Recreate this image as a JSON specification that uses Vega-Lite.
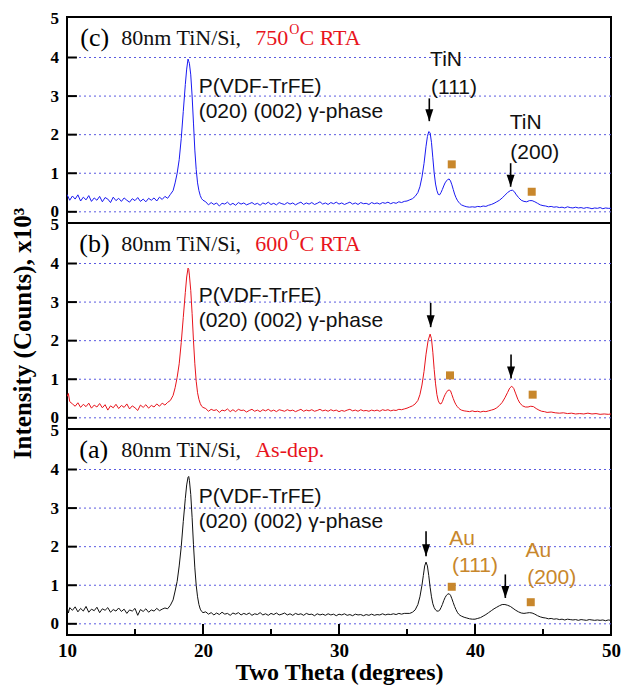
{
"$schema": "https://vega.github.io/schema/vega-lite/v6.json",
"autosize": {"type": "pad"},
"padding": {"left": 8, "top": 8, "right": 0, "bottom": 0},
"background": "white",
"bounds": "flush",
"spacing": 0,
"config": {"view": {"stroke": "black", "strokeWidth": 2}},
"datasets": {
"c": [
{"x":10.0,"y":0.45},{"x":10.2,"y":0.30},{"x":10.4,"y":0.41},{"x":10.6,"y":0.33},{"x":10.8,"y":0.44},{"x":11.0,"y":0.28},{"x":11.2,"y":0.38},{"x":11.4,"y":0.31},{"x":11.6,"y":0.42},{"x":11.8,"y":0.27},{"x":12.0,"y":0.36},{"x":12.2,"y":0.30},{"x":12.4,"y":0.40},{"x":12.6,"y":0.26},{"x":12.8,"y":0.37},{"x":13.0,"y":0.33},{"x":13.2,"y":0.24},{"x":13.4,"y":0.38},{"x":13.6,"y":0.29},{"x":13.8,"y":0.35},{"x":14.0,"y":0.27},{"x":14.2,"y":0.36},{"x":14.4,"y":0.30},{"x":14.6,"y":0.25},{"x":14.8,"y":0.34},{"x":15.0,"y":0.29},{"x":15.2,"y":0.37},{"x":15.4,"y":0.27},{"x":15.6,"y":0.33},{"x":15.8,"y":0.26},{"x":16.0,"y":0.35},{"x":16.2,"y":0.30},{"x":16.4,"y":0.36},{"x":16.6,"y":0.28},{"x":16.8,"y":0.38},{"x":17.0,"y":0.32},{"x":17.2,"y":0.40},{"x":17.4,"y":0.35},{"x":17.6,"y":0.45},
{"x":17.8,"y":0.55},{"x":17.95,"y":0.75},{"x":18.1,"y":1.0},{"x":18.25,"y":1.35},{"x":18.4,"y":1.9},{"x":18.55,"y":2.6},{"x":18.7,"y":3.3},{"x":18.8,"y":3.7},{"x":18.9,"y":3.96},{"x":18.95,"y":3.9},{"x":19.0,"y":3.85},{"x":19.1,"y":3.55},{"x":19.2,"y":3.0},{"x":19.3,"y":2.3},{"x":19.4,"y":1.6},{"x":19.5,"y":1.1},{"x":19.6,"y":0.75},{"x":19.7,"y":0.55},{"x":19.8,"y":0.42},{"x":19.9,"y":0.34},{"x":20.0,"y":0.30},
{"x":20.2,"y":0.26},{"x":20.4,"y":0.18},{"x":20.6,"y":0.24},{"x":20.8,"y":0.19},{"x":21.0,"y":0.23},{"x":21.2,"y":0.15},{"x":21.4,"y":0.22},{"x":21.6,"y":0.20},{"x":21.8,"y":0.25},{"x":22.0,"y":0.18},{"x":22.2,"y":0.22},{"x":22.4,"y":0.17},{"x":22.6,"y":0.24},{"x":22.8,"y":0.20},{"x":23.0,"y":0.23},{"x":23.2,"y":0.18},{"x":23.4,"y":0.21},{"x":23.6,"y":0.24},{"x":23.8,"y":0.19},{"x":24.0,"y":0.22},{"x":24.2,"y":0.17},{"x":24.4,"y":0.23},{"x":24.6,"y":0.20},{"x":24.8,"y":0.25},{"x":25.0,"y":0.19},{"x":25.2,"y":0.22},{"x":25.4,"y":0.18},{"x":25.6,"y":0.24},{"x":25.8,"y":0.21},{"x":26.0,"y":0.19},{"x":26.2,"y":0.24},{"x":26.4,"y":0.20},{"x":26.6,"y":0.23},{"x":26.8,"y":0.18},{"x":27.0,"y":0.22},{"x":27.2,"y":0.25},{"x":27.4,"y":0.19},{"x":27.6,"y":0.23},{"x":27.8,"y":0.20},{"x":28.0,"y":0.24},{"x":28.2,"y":0.19},{"x":28.4,"y":0.22},{"x":28.6,"y":0.26},{"x":28.8,"y":0.20},{"x":29.0,"y":0.23},{"x":29.2,"y":0.19},{"x":29.4,"y":0.24},{"x":29.6,"y":0.21},{"x":29.8,"y":0.25},{"x":30.0,"y":0.20},{"x":30.2,"y":0.23},{"x":30.4,"y":0.19},{"x":30.6,"y":0.22},{"x":30.8,"y":0.25},{"x":31.0,"y":0.20},{"x":31.2,"y":0.23},{"x":31.4,"y":0.19},{"x":31.6,"y":0.24},{"x":31.8,"y":0.21},{"x":32.0,"y":0.22},{"x":32.2,"y":0.19},{"x":32.4,"y":0.24},{"x":32.6,"y":0.21},{"x":32.8,"y":0.23},{"x":33.0,"y":0.20},{"x":33.2,"y":0.24},{"x":33.4,"y":0.22},{"x":33.6,"y":0.25},{"x":33.8,"y":0.21},{"x":34.0,"y":0.24},{"x":34.2,"y":0.22},{"x":34.4,"y":0.26},{"x":34.6,"y":0.24},{"x":34.8,"y":0.27},{"x":35.0,"y":0.28},{"x":35.2,"y":0.31},{"x":35.4,"y":0.34},
{"x":35.6,"y":0.40},{"x":35.8,"y":0.50},{"x":35.95,"y":0.65},{"x":36.1,"y":0.9},{"x":36.25,"y":1.25},{"x":36.4,"y":1.7},{"x":36.5,"y":1.95},{"x":36.6,"y":2.08},{"x":36.7,"y":2.05},{"x":36.8,"y":1.8},{"x":36.9,"y":1.4},{"x":37.0,"y":1.0},{"x":37.1,"y":0.72},{"x":37.2,"y":0.55},{"x":37.3,"y":0.45},{"x":37.4,"y":0.44},{"x":37.5,"y":0.50},{"x":37.6,"y":0.58},{"x":37.7,"y":0.67},{"x":37.8,"y":0.75},{"x":37.9,"y":0.80},{"x":38.0,"y":0.84},{"x":38.1,"y":0.85},{"x":38.2,"y":0.80},{"x":38.3,"y":0.70},{"x":38.4,"y":0.58},{"x":38.5,"y":0.46},{"x":38.6,"y":0.37},{"x":38.7,"y":0.30},{"x":38.8,"y":0.25},{"x":38.9,"y":0.21},{"x":39.0,"y":0.18},{"x":39.2,"y":0.15},{"x":39.4,"y":0.13},{"x":39.6,"y":0.12},{"x":39.8,"y":0.13},{"x":40.0,"y":0.12},{"x":40.2,"y":0.14},{"x":40.4,"y":0.13},{"x":40.6,"y":0.15},{"x":40.8,"y":0.14},{"x":41.0,"y":0.17},{"x":41.2,"y":0.19},{"x":41.4,"y":0.22},{"x":41.6,"y":0.26},{"x":41.8,"y":0.30},{"x":42.0,"y":0.36},{"x":42.2,"y":0.43},{"x":42.4,"y":0.50},{"x":42.6,"y":0.55},{"x":42.75,"y":0.56},{"x":42.9,"y":0.52},{"x":43.0,"y":0.46},{"x":43.2,"y":0.37},{"x":43.4,"y":0.30},{"x":43.6,"y":0.27},{"x":43.8,"y":0.26},{"x":44.0,"y":0.29},{"x":44.2,"y":0.29},{"x":44.4,"y":0.26},{"x":44.6,"y":0.22},{"x":44.8,"y":0.18},{"x":45.0,"y":0.16},{"x":45.2,"y":0.15},{"x":45.4,"y":0.13},{"x":45.6,"y":0.14},{"x":45.8,"y":0.12},
{"x":46.0,"y":0.13},{"x":46.2,"y":0.11},{"x":46.4,"y":0.12},{"x":46.6,"y":0.10},{"x":46.8,"y":0.13},{"x":47.0,"y":0.11},{"x":47.2,"y":0.10},{"x":47.4,"y":0.12},{"x":47.6,"y":0.10},{"x":47.8,"y":0.11},{"x":48.0,"y":0.09},{"x":48.2,"y":0.11},{"x":48.4,"y":0.10},{"x":48.6,"y":0.08},{"x":48.8,"y":0.10},{"x":49.0,"y":0.09},{"x":49.2,"y":0.11},{"x":49.4,"y":0.08},{"x":49.6,"y":0.10},{"x":49.8,"y":0.09},{"x":50.0,"y":0.09}
],
"b": [
{"x":10.0,"y":0.55},{"x":10.1,"y":0.63},{"x":10.2,"y":0.42},{"x":10.4,"y":0.36},{"x":10.6,"y":0.30},{"x":10.8,"y":0.39},{"x":11.0,"y":0.27},{"x":11.2,"y":0.35},{"x":11.4,"y":0.29},{"x":11.6,"y":0.38},{"x":11.8,"y":0.25},{"x":12.0,"y":0.33},{"x":12.2,"y":0.28},{"x":12.4,"y":0.37},{"x":12.6,"y":0.26},{"x":12.8,"y":0.34},{"x":13.0,"y":0.20},{"x":13.2,"y":0.31},{"x":13.4,"y":0.26},{"x":13.6,"y":0.35},{"x":13.8,"y":0.24},{"x":14.0,"y":0.32},{"x":14.2,"y":0.27},{"x":14.4,"y":0.36},{"x":14.6,"y":0.23},{"x":14.8,"y":0.31},{"x":15.0,"y":0.26},{"x":15.2,"y":0.19},{"x":15.4,"y":0.33},{"x":15.6,"y":0.27},{"x":15.8,"y":0.34},{"x":16.0,"y":0.25},{"x":16.2,"y":0.32},{"x":16.4,"y":0.28},{"x":16.6,"y":0.36},{"x":16.8,"y":0.30},{"x":17.0,"y":0.38},{"x":17.2,"y":0.33},{"x":17.4,"y":0.40},{"x":17.6,"y":0.45},
{"x":17.8,"y":0.58},{"x":17.95,"y":0.78},{"x":18.1,"y":1.05},{"x":18.25,"y":1.4},{"x":18.4,"y":1.95},{"x":18.55,"y":2.6},{"x":18.7,"y":3.25},{"x":18.8,"y":3.65},{"x":18.9,"y":3.88},{"x":18.95,"y":3.85},{"x":19.0,"y":3.7},{"x":19.1,"y":3.3},{"x":19.2,"y":2.7},{"x":19.3,"y":2.0},{"x":19.4,"y":1.4},{"x":19.5,"y":0.95},{"x":19.6,"y":0.65},{"x":19.7,"y":0.48},{"x":19.8,"y":0.37},{"x":19.9,"y":0.30},{"x":20.0,"y":0.27},
{"x":20.2,"y":0.24},{"x":20.4,"y":0.17},{"x":20.6,"y":0.22},{"x":20.8,"y":0.19},{"x":21.0,"y":0.21},{"x":21.2,"y":0.14},{"x":21.4,"y":0.20},{"x":21.6,"y":0.18},{"x":21.8,"y":0.23},{"x":22.0,"y":0.16},{"x":22.2,"y":0.21},{"x":22.4,"y":0.16},{"x":22.6,"y":0.22},{"x":22.8,"y":0.19},{"x":23.0,"y":0.20},{"x":23.2,"y":0.15},{"x":23.4,"y":0.19},{"x":23.6,"y":0.22},{"x":23.8,"y":0.17},{"x":24.0,"y":0.20},{"x":24.2,"y":0.16},{"x":24.4,"y":0.21},{"x":24.6,"y":0.18},{"x":24.8,"y":0.22},{"x":25.0,"y":0.17},{"x":25.2,"y":0.20},{"x":25.4,"y":0.16},{"x":25.6,"y":0.21},{"x":25.8,"y":0.19},{"x":26.0,"y":0.17},{"x":26.2,"y":0.21},{"x":26.4,"y":0.18},{"x":26.6,"y":0.20},{"x":26.8,"y":0.16},{"x":27.0,"y":0.19},{"x":27.2,"y":0.22},{"x":27.4,"y":0.17},{"x":27.6,"y":0.20},{"x":27.8,"y":0.18},{"x":28.0,"y":0.21},{"x":28.2,"y":0.17},{"x":28.4,"y":0.19},{"x":28.6,"y":0.22},{"x":28.8,"y":0.18},{"x":29.0,"y":0.20},{"x":29.2,"y":0.17},{"x":29.4,"y":0.21},{"x":29.6,"y":0.18},{"x":29.8,"y":0.20},{"x":30.0,"y":0.16},{"x":30.2,"y":0.19},{"x":30.4,"y":0.17},{"x":30.6,"y":0.20},{"x":30.8,"y":0.22},{"x":31.0,"y":0.18},{"x":31.2,"y":0.20},{"x":31.4,"y":0.17},{"x":31.6,"y":0.21},{"x":31.8,"y":0.18},{"x":32.0,"y":0.19},{"x":32.2,"y":0.17},{"x":32.4,"y":0.20},{"x":32.6,"y":0.18},{"x":32.8,"y":0.20},{"x":33.0,"y":0.17},{"x":33.2,"y":0.21},{"x":33.4,"y":0.19},{"x":33.6,"y":0.21},{"x":33.8,"y":0.18},{"x":34.0,"y":0.20},{"x":34.2,"y":0.19},{"x":34.4,"y":0.22},{"x":34.6,"y":0.21},{"x":34.8,"y":0.23},{"x":35.0,"y":0.25},{"x":35.2,"y":0.28},{"x":35.4,"y":0.31},
{"x":35.6,"y":0.36},{"x":35.8,"y":0.45},{"x":35.95,"y":0.6},{"x":36.1,"y":0.85},{"x":36.25,"y":1.2},{"x":36.4,"y":1.65},{"x":36.55,"y":2.0},{"x":36.7,"y":2.17},{"x":36.8,"y":2.05},{"x":36.9,"y":1.7},{"x":37.0,"y":1.25},{"x":37.1,"y":0.88},{"x":37.2,"y":0.6},{"x":37.3,"y":0.44},{"x":37.4,"y":0.37},{"x":37.5,"y":0.36},{"x":37.6,"y":0.42},{"x":37.7,"y":0.52},{"x":37.8,"y":0.6},{"x":37.9,"y":0.66},{"x":38.0,"y":0.71},{"x":38.1,"y":0.72},{"x":38.2,"y":0.7},{"x":38.3,"y":0.6},{"x":38.4,"y":0.5},{"x":38.5,"y":0.41},{"x":38.6,"y":0.34},{"x":38.7,"y":0.29},{"x":38.8,"y":0.25},{"x":38.9,"y":0.22},{"x":39.0,"y":0.2},{"x":39.2,"y":0.18},{"x":39.4,"y":0.17},{"x":39.6,"y":0.16},{"x":39.8,"y":0.18},{"x":40.0,"y":0.16},{"x":40.2,"y":0.17},{"x":40.4,"y":0.15},{"x":40.6,"y":0.17},{"x":40.8,"y":0.16},{"x":41.0,"y":0.18},{"x":41.2,"y":0.2},{"x":41.4,"y":0.22},{"x":41.6,"y":0.26},{"x":41.8,"y":0.32},{"x":42.0,"y":0.4},{"x":42.2,"y":0.52},{"x":42.4,"y":0.66},{"x":42.55,"y":0.77},{"x":42.7,"y":0.82},{"x":42.85,"y":0.76},{"x":43.0,"y":0.62},{"x":43.15,"y":0.48},{"x":43.3,"y":0.38},{"x":43.5,"y":0.31},{"x":43.7,"y":0.28},{"x":43.9,"y":0.28},{"x":44.1,"y":0.3},{"x":44.3,"y":0.29},{"x":44.5,"y":0.24},{"x":44.7,"y":0.2},{"x":44.9,"y":0.17},{"x":45.1,"y":0.16},{"x":45.3,"y":0.14},{"x":45.6,"y":0.15},{"x":45.9,"y":0.13},{"x":46.2,"y":0.12},{"x":46.5,"y":0.13},{"x":46.8,"y":0.11},{"x":47.1,"y":0.12},{"x":47.4,"y":0.10},{"x":47.7,"y":0.11},{"x":48.0,"y":0.10},{"x":48.3,"y":0.12},{"x":48.6,"y":0.10},{"x":48.9,"y":0.11},{"x":49.2,"y":0.09},{"x":49.5,"y":0.10},{"x":49.8,"y":0.09},{"x":50.0,"y":0.10}
],
"a": [
{"x":10.0,"y":0.45},{"x":10.1,"y":0.28},{"x":10.2,"y":0.42},{"x":10.4,"y":0.35},{"x":10.6,"y":0.44},{"x":10.8,"y":0.31},{"x":11.0,"y":0.40},{"x":11.2,"y":0.33},{"x":11.4,"y":0.45},{"x":11.6,"y":0.30},{"x":11.8,"y":0.38},{"x":12.0,"y":0.34},{"x":12.2,"y":0.43},{"x":12.4,"y":0.29},{"x":12.6,"y":0.39},{"x":12.8,"y":0.35},{"x":13.0,"y":0.42},{"x":13.2,"y":0.30},{"x":13.4,"y":0.37},{"x":13.6,"y":0.33},{"x":13.8,"y":0.41},{"x":14.0,"y":0.32},{"x":14.2,"y":0.38},{"x":14.4,"y":0.27},{"x":14.6,"y":0.36},{"x":14.8,"y":0.33},{"x":15.0,"y":0.40},{"x":15.2,"y":0.22},{"x":15.4,"y":0.37},{"x":15.6,"y":0.32},{"x":15.8,"y":0.39},{"x":16.0,"y":0.30},{"x":16.2,"y":0.36},{"x":16.4,"y":0.33},{"x":16.6,"y":0.40},{"x":16.8,"y":0.34},{"x":17.0,"y":0.38},{"x":17.2,"y":0.41},{"x":17.4,"y":0.39},{"x":17.6,"y":0.48},
{"x":17.8,"y":0.62},{"x":17.95,"y":0.85},{"x":18.1,"y":1.1},{"x":18.25,"y":1.5},{"x":18.4,"y":2.0},{"x":18.55,"y":2.65},{"x":18.7,"y":3.25},{"x":18.8,"y":3.6},{"x":18.9,"y":3.8},{"x":18.95,"y":3.82},{"x":19.0,"y":3.72},{"x":19.1,"y":3.35},{"x":19.2,"y":2.75},{"x":19.3,"y":2.05},{"x":19.4,"y":1.45},{"x":19.5,"y":1.0},{"x":19.6,"y":0.7},{"x":19.7,"y":0.5},{"x":19.8,"y":0.38},{"x":19.9,"y":0.32},{"x":20.0,"y":0.29},
{"x":20.2,"y":0.31},{"x":20.4,"y":0.25},{"x":20.6,"y":0.29},{"x":20.8,"y":0.23},{"x":21.0,"y":0.28},{"x":21.2,"y":0.24},{"x":21.4,"y":0.30},{"x":21.6,"y":0.25},{"x":21.8,"y":0.27},{"x":22.0,"y":0.22},{"x":22.2,"y":0.28},{"x":22.4,"y":0.25},{"x":22.6,"y":0.29},{"x":22.8,"y":0.23},{"x":23.0,"y":0.27},{"x":23.2,"y":0.24},{"x":23.4,"y":0.28},{"x":23.6,"y":0.22},{"x":23.8,"y":0.26},{"x":24.0,"y":0.24},{"x":24.2,"y":0.29},{"x":24.4,"y":0.23},{"x":24.6,"y":0.26},{"x":24.8,"y":0.22},{"x":25.0,"y":0.27},{"x":25.2,"y":0.24},{"x":25.4,"y":0.28},{"x":25.6,"y":0.23},{"x":25.8,"y":0.25},{"x":26.0,"y":0.28},{"x":26.2,"y":0.23},{"x":26.4,"y":0.26},{"x":26.6,"y":0.22},{"x":26.8,"y":0.27},{"x":27.0,"y":0.24},{"x":27.2,"y":0.26},{"x":27.4,"y":0.22},{"x":27.6,"y":0.27},{"x":27.8,"y":0.24},{"x":28.0,"y":0.25},{"x":28.2,"y":0.21},{"x":28.4,"y":0.26},{"x":28.6,"y":0.23},{"x":28.8,"y":0.25},{"x":29.0,"y":0.22},{"x":29.2,"y":0.26},{"x":29.4,"y":0.23},{"x":29.6,"y":0.25},{"x":29.8,"y":0.21},{"x":30.0,"y":0.25},{"x":30.2,"y":0.23},{"x":30.4,"y":0.26},{"x":30.6,"y":0.22},{"x":30.8,"y":0.24},{"x":31.0,"y":0.21},{"x":31.2,"y":0.25},{"x":31.4,"y":0.23},{"x":31.6,"y":0.24},{"x":31.8,"y":0.21},{"x":32.0,"y":0.24},{"x":32.2,"y":0.22},{"x":32.4,"y":0.25},{"x":32.6,"y":0.22},{"x":32.8,"y":0.24},{"x":33.0,"y":0.23},{"x":33.2,"y":0.26},{"x":33.4,"y":0.23},{"x":33.6,"y":0.25},{"x":33.8,"y":0.24},{"x":34.0,"y":0.26},{"x":34.2,"y":0.24},{"x":34.4,"y":0.27},{"x":34.6,"y":0.25},{"x":34.8,"y":0.27},{"x":35.0,"y":0.27},
{"x":35.2,"y":0.27},{"x":35.4,"y":0.30},{"x":35.6,"y":0.36},{"x":35.8,"y":0.5},{"x":35.95,"y":0.7},{"x":36.1,"y":1.0},{"x":36.2,"y":1.25},{"x":36.3,"y":1.5},{"x":36.4,"y":1.6},{"x":36.5,"y":1.5},{"x":36.6,"y":1.25},{"x":36.7,"y":0.95},{"x":36.8,"y":0.7},{"x":36.9,"y":0.52},{"x":37.0,"y":0.42},{"x":37.1,"y":0.36},{"x":37.2,"y":0.33},{"x":37.3,"y":0.33},{"x":37.4,"y":0.35},{"x":37.5,"y":0.42},{"x":37.6,"y":0.5},{"x":37.7,"y":0.6},{"x":37.8,"y":0.68},{"x":37.9,"y":0.74},{"x":38.0,"y":0.77},{"x":38.1,"y":0.78},{"x":38.2,"y":0.74},{"x":38.3,"y":0.65},{"x":38.4,"y":0.55},{"x":38.5,"y":0.45},{"x":38.6,"y":0.37},{"x":38.7,"y":0.3},{"x":38.8,"y":0.25},{"x":38.9,"y":0.22},{"x":39.0,"y":0.2},{"x":39.2,"y":0.17},{"x":39.4,"y":0.15},{"x":39.6,"y":0.13},{"x":39.8,"y":0.12},{"x":40.0,"y":0.12},{"x":40.2,"y":0.14},{"x":40.4,"y":0.16},{"x":40.6,"y":0.2},{"x":40.8,"y":0.24},{"x":41.0,"y":0.29},{"x":41.2,"y":0.34},{"x":41.4,"y":0.39},{"x":41.6,"y":0.43},{"x":41.8,"y":0.47},{"x":42.0,"y":0.5},{"x":42.2,"y":0.5},{"x":42.4,"y":0.48},{"x":42.6,"y":0.45},{"x":42.8,"y":0.4},{"x":43.0,"y":0.35},{"x":43.2,"y":0.31},{"x":43.4,"y":0.28},{"x":43.6,"y":0.27},{"x":43.8,"y":0.28},{"x":44.0,"y":0.29},{"x":44.2,"y":0.28},{"x":44.4,"y":0.25},{"x":44.6,"y":0.21},{"x":44.8,"y":0.18},
{"x":45.0,"y":0.16},{"x":45.2,"y":0.15},{"x":45.4,"y":0.13},{"x":45.6,"y":0.14},{"x":45.8,"y":0.12},{"x":46.0,"y":0.13},{"x":46.2,"y":0.11},{"x":46.4,"y":0.12},{"x":46.6,"y":0.10},{"x":46.8,"y":0.12},{"x":47.0,"y":0.11},{"x":47.2,"y":0.10},{"x":47.4,"y":0.11},{"x":47.6,"y":0.09},{"x":47.8,"y":0.11},{"x":48.0,"y":0.10},{"x":48.2,"y":0.09},{"x":48.4,"y":0.11},{"x":48.6,"y":0.10},{"x":48.8,"y":0.09},{"x":49.0,"y":0.10},{"x":49.2,"y":0.09},{"x":49.4,"y":0.10},{"x":49.6,"y":0.08},{"x":49.8,"y":0.10},{"x":50.0,"y":0.09}
],
"grid": [{"v":0},{"v":1},{"v":2},{"v":3},{"v":4}],
"yticks": [{"v":0,"x1":10,"x2":10.73},{"v":1,"x1":10,"x2":10.73},{"v":2,"x1":10,"x2":10.73},{"v":3,"x1":10,"x2":10.73},{"v":4,"x1":10,"x2":10.73}],
"xticks": [{"x":20,"ya":-0.29,"yb":-0.005},{"x":30,"ya":-0.29,"yb":-0.005},{"x":40,"ya":-0.29,"yb":-0.005},{"x":15,"ya":-0.29,"yb":-0.135},{"x":25,"ya":-0.29,"yb":-0.135},{"x":35,"ya":-0.29,"yb":-0.135},{"x":45,"ya":-0.29,"yb":-0.135}],
"arrows": [
{"p":"c","x":36.64,"y1":2.94,"y2":2.35},{"p":"c","x":42.62,"y1":1.26,"y2":0.65},
{"p":"b","x":36.74,"y1":2.98,"y2":2.35},{"p":"b","x":42.65,"y1":1.64,"y2":1.02},
{"p":"a","x":36.4,"y1":2.4,"y2":1.75},{"p":"a","x":42.23,"y1":1.28,"y2":0.67}
],
"squares": [
{"p":"c","x":38.29,"y":1.23},{"p":"c","x":44.17,"y":0.52},
{"p":"b","x":38.16,"y":1.1},{"p":"b","x":44.24,"y":0.6},
{"p":"a","x":38.29,"y":0.96},{"p":"a","x":44.1,"y":0.56}
],
"texts": [
{"p":"c","k":"paren","x":10.98,"y":4.5,"t":"(c)"},
{"p":"c","k":"lab","x":13.99,"y":4.5,"t":"80nm TiN/Si,"},
{"p":"c","k":"red","x":23.84,"y":4.5,"t":"750"},
{"p":"c","k":"sup","x":26.35,"y":4.72,"t":"O"},
{"p":"c","k":"red","x":27.1,"y":4.5,"t":"C RTA"},
{"p":"c","k":"annL","x":19.68,"y":3.24,"t":"P(VDF-TrFE)"},
{"p":"c","k":"annL","x":19.68,"y":2.59,"t":"(020) (002) γ-phase"},
{"p":"c","k":"annC","x":37.87,"y":3.93,"t":"TiN"},
{"p":"c","k":"annC","x":38.46,"y":3.2,"t":"(111)"},
{"p":"c","k":"annC","x":43.73,"y":2.29,"t":"TiN"},
{"p":"c","k":"annC","x":44.4,"y":1.53,"t":"(200)"},
{"p":"b","k":"paren","x":10.9,"y":4.5,"t":"(b)"},
{"p":"b","k":"lab","x":13.99,"y":4.5,"t":"80nm TiN/Si,"},
{"p":"b","k":"red","x":23.84,"y":4.5,"t":"600"},
{"p":"b","k":"sup","x":26.35,"y":4.72,"t":"O"},
{"p":"b","k":"red","x":27.1,"y":4.5,"t":"C RTA"},
{"p":"b","k":"annL","x":19.68,"y":3.15,"t":"P(VDF-TrFE)"},
{"p":"b","k":"annL","x":19.68,"y":2.5,"t":"(020) (002) γ-phase"},
{"p":"a","k":"paren","x":10.9,"y":4.5,"t":"(a)"},
{"p":"a","k":"lab","x":13.99,"y":4.5,"t":"80nm TiN/Si,"},
{"p":"a","k":"red","x":23.84,"y":4.5,"t":"As-dep."},
{"p":"a","k":"annL","x":19.68,"y":3.3,"t":"P(VDF-TrFE)"},
{"p":"a","k":"annL","x":19.68,"y":2.65,"t":"(020) (002) γ-phase"},
{"p":"a","k":"au","x":39.05,"y":2.21,"t":"Au"},
{"p":"a","k":"au","x":40.0,"y":1.49,"t":"(111)"},
{"p":"a","k":"au","x":44.66,"y":1.88,"t":"Au"},
{"p":"a","k":"au","x":45.64,"y":1.19,"t":"(200)"}
]
},
"vconcat": [
{
"width": 544, "height": 206,
"layer": [
{"data": {"name": "grid"}, "mark": {"type": "rule", "color": "#5a5ae0", "strokeWidth": 1, "strokeDash": [2, 3]},
 "encoding": {"y": {"field": "v", "type": "quantitative", "scale": {"domain": [-0.29, 5.05], "nice": false, "zero": false},
  "axis": {"values": [0,1,2,3,4,5], "grid": false, "ticks": false, "domain": false, "labelPadding": 8.5,
   "labelFont": "Liberation Serif", "labelFontWeight": "bold", "labelFontSize": 17, "labelColor": "black", "title": null}}}},
{"data": {"name": "yticks"}, "mark": {"type": "rule", "color": "black", "strokeWidth": 2},
 "encoding": {"x": {"field": "x1", "type": "quantitative", "title": null}, "x2": {"field": "x2"}, "y": {"field": "v", "type": "quantitative", "title": null}}},
{"data": {"name": "c"}, "mark": {"type": "line", "color": "#1a1af2", "strokeWidth": 1, "clip": true},
 "encoding": {
  "x": {"field": "x", "type": "quantitative", "scale": {"domain": [10, 50], "nice": false, "zero": false}, "axis": null},
  "y": {"field": "y", "type": "quantitative", "title": null}}},
{"data": {"name": "arrows"}, "transform": [{"filter": "datum.p == 'c'"}], "mark": {"type": "rule", "color": "black", "strokeWidth": 1.6},
 "encoding": {"x": {"field": "x", "type": "quantitative", "title": null}, "y": {"field": "y1", "type": "quantitative", "title": null}, "y2": {"field": "y2"}}},
{"data": {"name": "arrows"}, "transform": [{"filter": "datum.p == 'c'"}], "mark": {"type": "point", "shape": "M0,0L-0.8,-2.4L0.8,-2.4Z", "filled": true, "color": "black", "size": 100, "opacity": 1},
 "encoding": {"x": {"field": "x", "type": "quantitative", "title": null}, "y": {"field": "y2", "type": "quantitative", "title": null}}},
{"data": {"name": "squares"}, "transform": [{"filter": "datum.p == 'c'"}], "mark": {"type": "square", "color": "#c8872c", "size": 64, "opacity": 1},
 "encoding": {"x": {"field": "x", "type": "quantitative", "title": null}, "y": {"field": "y", "type": "quantitative", "title": null}}},
{"data": {"name": "texts"}, "transform": [{"filter": "datum.p == 'c' && datum.k == 'paren'"}], "mark": {"type": "text", "font": "Liberation Serif", "fontSize": 26, "align": "left", "baseline": "middle", "color": "black"},
 "encoding": {"x": {"field": "x", "type": "quantitative", "title": null}, "y": {"field": "y", "type": "quantitative", "title": null}, "text": {"field": "t"}}},
{"data": {"name": "texts"}, "transform": [{"filter": "datum.p == 'c' && datum.k == 'lab'"}], "mark": {"type": "text", "font": "Liberation Serif", "fontSize": 22, "align": "left", "baseline": "middle", "color": "#111"},
 "encoding": {"x": {"field": "x", "type": "quantitative", "title": null}, "y": {"field": "y", "type": "quantitative", "title": null}, "text": {"field": "t"}}},
{"data": {"name": "texts"}, "transform": [{"filter": "datum.p == 'c' && datum.k == 'red'"}], "mark": {"type": "text", "font": "Liberation Serif", "fontSize": 22, "align": "left", "baseline": "middle", "color": "#e8141c"},
 "encoding": {"x": {"field": "x", "type": "quantitative", "title": null}, "y": {"field": "y", "type": "quantitative", "title": null}, "text": {"field": "t"}}},
{"data": {"name": "texts"}, "transform": [{"filter": "datum.p == 'c' && datum.k == 'sup'"}], "mark": {"type": "text", "font": "Liberation Serif", "fontSize": 14, "align": "left", "baseline": "middle", "color": "#e8141c"},
 "encoding": {"x": {"field": "x", "type": "quantitative", "title": null}, "y": {"field": "y", "type": "quantitative", "title": null}, "text": {"field": "t"}}},
{"data": {"name": "texts"}, "transform": [{"filter": "datum.p == 'c' && datum.k == 'annL'"}], "mark": {"type": "text", "font": "Liberation Sans", "fontSize": 21, "align": "left", "baseline": "middle", "color": "#111"},
 "encoding": {"x": {"field": "x", "type": "quantitative", "title": null}, "y": {"field": "y", "type": "quantitative", "title": null}, "text": {"field": "t"}}},
{"data": {"name": "texts"}, "transform": [{"filter": "datum.p == 'c' && datum.k == 'annC'"}], "mark": {"type": "text", "font": "Liberation Sans", "fontSize": 21, "align": "center", "baseline": "middle", "color": "#111"},
 "encoding": {"x": {"field": "x", "type": "quantitative", "title": null}, "y": {"field": "y", "type": "quantitative", "title": null}, "text": {"field": "t"}}}
]
},
{
"width": 544, "height": 206,
"layer": [
{"data": {"name": "grid"}, "mark": {"type": "rule", "color": "#5a5ae0", "strokeWidth": 1, "strokeDash": [2, 3]},
 "encoding": {"y": {"field": "v", "type": "quantitative", "title": "Intensity (Counts), x10³", "scale": {"domain": [-0.29, 5.05], "nice": false, "zero": false},
  "axis": {"values": [0,1,2,3,4,5], "grid": false, "ticks": false, "domain": false, "labelPadding": 8.5,
   "labelFont": "Liberation Serif", "labelFontWeight": "bold", "labelFontSize": 17, "labelColor": "black",
   "titleFont": "Liberation Serif", "titleFontWeight": "bold", "titleFontSize": 25, "titleColor": "black",
   "titleX": -45, "titleY": 110, "titleAngle": -90, "titleBaseline": "middle", "titleAlign": "center"}}}},
{"data": {"name": "yticks"}, "mark": {"type": "rule", "color": "black", "strokeWidth": 2},
 "encoding": {"x": {"field": "x1", "type": "quantitative", "title": null}, "x2": {"field": "x2"}, "y": {"field": "v", "type": "quantitative", "title": "Intensity (Counts), x10³"}}},
{"data": {"name": "b"}, "mark": {"type": "line", "color": "#e8141c", "strokeWidth": 1, "clip": true},
 "encoding": {
  "x": {"field": "x", "type": "quantitative", "scale": {"domain": [10, 50], "nice": false, "zero": false}, "axis": null},
  "y": {"field": "y", "type": "quantitative", "title": "Intensity (Counts), x10³"}}},
{"data": {"name": "arrows"}, "transform": [{"filter": "datum.p == 'b'"}], "mark": {"type": "rule", "color": "black", "strokeWidth": 1.6},
 "encoding": {"x": {"field": "x", "type": "quantitative", "title": null}, "y": {"field": "y1", "type": "quantitative", "title": "Intensity (Counts), x10³"}, "y2": {"field": "y2"}}},
{"data": {"name": "arrows"}, "transform": [{"filter": "datum.p == 'b'"}], "mark": {"type": "point", "shape": "M0,0L-0.8,-2.4L0.8,-2.4Z", "filled": true, "color": "black", "size": 100, "opacity": 1},
 "encoding": {"x": {"field": "x", "type": "quantitative", "title": null}, "y": {"field": "y2", "type": "quantitative", "title": "Intensity (Counts), x10³"}}},
{"data": {"name": "squares"}, "transform": [{"filter": "datum.p == 'b'"}], "mark": {"type": "square", "color": "#c8872c", "size": 64, "opacity": 1},
 "encoding": {"x": {"field": "x", "type": "quantitative", "title": null}, "y": {"field": "y", "type": "quantitative", "title": "Intensity (Counts), x10³"}}},
{"data": {"name": "texts"}, "transform": [{"filter": "datum.p == 'b' && datum.k == 'paren'"}], "mark": {"type": "text", "font": "Liberation Serif", "fontSize": 26, "align": "left", "baseline": "middle", "color": "black"},
 "encoding": {"x": {"field": "x", "type": "quantitative", "title": null}, "y": {"field": "y", "type": "quantitative", "title": "Intensity (Counts), x10³"}, "text": {"field": "t"}}},
{"data": {"name": "texts"}, "transform": [{"filter": "datum.p == 'b' && datum.k == 'lab'"}], "mark": {"type": "text", "font": "Liberation Serif", "fontSize": 22, "align": "left", "baseline": "middle", "color": "#111"},
 "encoding": {"x": {"field": "x", "type": "quantitative", "title": null}, "y": {"field": "y", "type": "quantitative", "title": "Intensity (Counts), x10³"}, "text": {"field": "t"}}},
{"data": {"name": "texts"}, "transform": [{"filter": "datum.p == 'b' && datum.k == 'red'"}], "mark": {"type": "text", "font": "Liberation Serif", "fontSize": 22, "align": "left", "baseline": "middle", "color": "#e8141c"},
 "encoding": {"x": {"field": "x", "type": "quantitative", "title": null}, "y": {"field": "y", "type": "quantitative", "title": "Intensity (Counts), x10³"}, "text": {"field": "t"}}},
{"data": {"name": "texts"}, "transform": [{"filter": "datum.p == 'b' && datum.k == 'sup'"}], "mark": {"type": "text", "font": "Liberation Serif", "fontSize": 14, "align": "left", "baseline": "middle", "color": "#e8141c"},
 "encoding": {"x": {"field": "x", "type": "quantitative", "title": null}, "y": {"field": "y", "type": "quantitative", "title": "Intensity (Counts), x10³"}, "text": {"field": "t"}}},
{"data": {"name": "texts"}, "transform": [{"filter": "datum.p == 'b' && datum.k == 'annL'"}], "mark": {"type": "text", "font": "Liberation Sans", "fontSize": 21, "align": "left", "baseline": "middle", "color": "#111"},
 "encoding": {"x": {"field": "x", "type": "quantitative", "title": null}, "y": {"field": "y", "type": "quantitative", "title": "Intensity (Counts), x10³"}, "text": {"field": "t"}}}
]
},
{
"width": 544, "height": 206,
"layer": [
{"data": {"name": "grid"}, "mark": {"type": "rule", "color": "#5a5ae0", "strokeWidth": 1, "strokeDash": [2, 3]},
 "encoding": {"y": {"field": "v", "type": "quantitative", "scale": {"domain": [-0.29, 5.05], "nice": false, "zero": false},
  "axis": {"values": [0,1,2,3,4,5], "grid": false, "ticks": false, "domain": false, "labelPadding": 8.5,
   "labelFont": "Liberation Serif", "labelFontWeight": "bold", "labelFontSize": 17, "labelColor": "black", "title": null}}}},
{"data": {"name": "yticks"}, "mark": {"type": "rule", "color": "black", "strokeWidth": 2},
 "encoding": {"x": {"field": "x1", "type": "quantitative", "title": "Two Theta (degrees)"}, "x2": {"field": "x2"}, "y": {"field": "v", "type": "quantitative", "title": null}}},
{"data": {"name": "xticks"}, "mark": {"type": "rule", "color": "black", "strokeWidth": 2},
 "encoding": {"x": {"field": "x", "type": "quantitative", "title": "Two Theta (degrees)"}, "y": {"field": "ya", "type": "quantitative", "title": null}, "y2": {"field": "yb"}}},
{"data": {"name": "a"}, "mark": {"type": "line", "color": "#111111", "strokeWidth": 1, "clip": true},
 "encoding": {
  "x": {"field": "x", "type": "quantitative", "title": "Two Theta (degrees)", "scale": {"domain": [10, 50], "nice": false, "zero": false},
   "axis": {"values": [10,20,30,40,50], "ticks": false, "domain": false, "grid": false, "labelPadding": 6, "labelFlush": false, "labelOverlap": false,
    "labelFont": "Liberation Serif", "labelFontWeight": "bold", "labelFontSize": 19, "labelColor": "black",
    "titleFont": "Liberation Serif", "titleFontWeight": "bold", "titleFontSize": 24, "titleColor": "black", "titlePadding": 0}},
  "y": {"field": "y", "type": "quantitative", "title": null}}},
{"data": {"name": "arrows"}, "transform": [{"filter": "datum.p == 'a'"}], "mark": {"type": "rule", "color": "black", "strokeWidth": 1.6},
 "encoding": {"x": {"field": "x", "type": "quantitative", "title": "Two Theta (degrees)"}, "y": {"field": "y1", "type": "quantitative", "title": null}, "y2": {"field": "y2"}}},
{"data": {"name": "arrows"}, "transform": [{"filter": "datum.p == 'a'"}], "mark": {"type": "point", "shape": "M0,0L-0.8,-2.4L0.8,-2.4Z", "filled": true, "color": "black", "size": 100, "opacity": 1},
 "encoding": {"x": {"field": "x", "type": "quantitative", "title": "Two Theta (degrees)"}, "y": {"field": "y2", "type": "quantitative", "title": null}}},
{"data": {"name": "squares"}, "transform": [{"filter": "datum.p == 'a'"}], "mark": {"type": "square", "color": "#c8872c", "size": 64, "opacity": 1},
 "encoding": {"x": {"field": "x", "type": "quantitative", "title": "Two Theta (degrees)"}, "y": {"field": "y", "type": "quantitative", "title": null}}},
{"data": {"name": "texts"}, "transform": [{"filter": "datum.p == 'a' && datum.k == 'paren'"}], "mark": {"type": "text", "font": "Liberation Serif", "fontSize": 26, "align": "left", "baseline": "middle", "color": "black"},
 "encoding": {"x": {"field": "x", "type": "quantitative", "title": "Two Theta (degrees)"}, "y": {"field": "y", "type": "quantitative", "title": null}, "text": {"field": "t"}}},
{"data": {"name": "texts"}, "transform": [{"filter": "datum.p == 'a' && datum.k == 'lab'"}], "mark": {"type": "text", "font": "Liberation Serif", "fontSize": 22, "align": "left", "baseline": "middle", "color": "#111"},
 "encoding": {"x": {"field": "x", "type": "quantitative", "title": "Two Theta (degrees)"}, "y": {"field": "y", "type": "quantitative", "title": null}, "text": {"field": "t"}}},
{"data": {"name": "texts"}, "transform": [{"filter": "datum.p == 'a' && datum.k == 'red'"}], "mark": {"type": "text", "font": "Liberation Serif", "fontSize": 22, "align": "left", "baseline": "middle", "color": "#e8141c"},
 "encoding": {"x": {"field": "x", "type": "quantitative", "title": "Two Theta (degrees)"}, "y": {"field": "y", "type": "quantitative", "title": null}, "text": {"field": "t"}}},
{"data": {"name": "texts"}, "transform": [{"filter": "datum.p == 'a' && datum.k == 'annL'"}], "mark": {"type": "text", "font": "Liberation Sans", "fontSize": 21, "align": "left", "baseline": "middle", "color": "#111"},
 "encoding": {"x": {"field": "x", "type": "quantitative", "title": "Two Theta (degrees)"}, "y": {"field": "y", "type": "quantitative", "title": null}, "text": {"field": "t"}}},
{"data": {"name": "texts"}, "transform": [{"filter": "datum.p == 'a' && datum.k == 'au'"}], "mark": {"type": "text", "font": "Liberation Sans", "fontSize": 21, "align": "center", "baseline": "middle", "color": "#c8872c"},
 "encoding": {"x": {"field": "x", "type": "quantitative", "title": "Two Theta (degrees)"}, "y": {"field": "y", "type": "quantitative", "title": null}, "text": {"field": "t"}}}
]
}
]
}
